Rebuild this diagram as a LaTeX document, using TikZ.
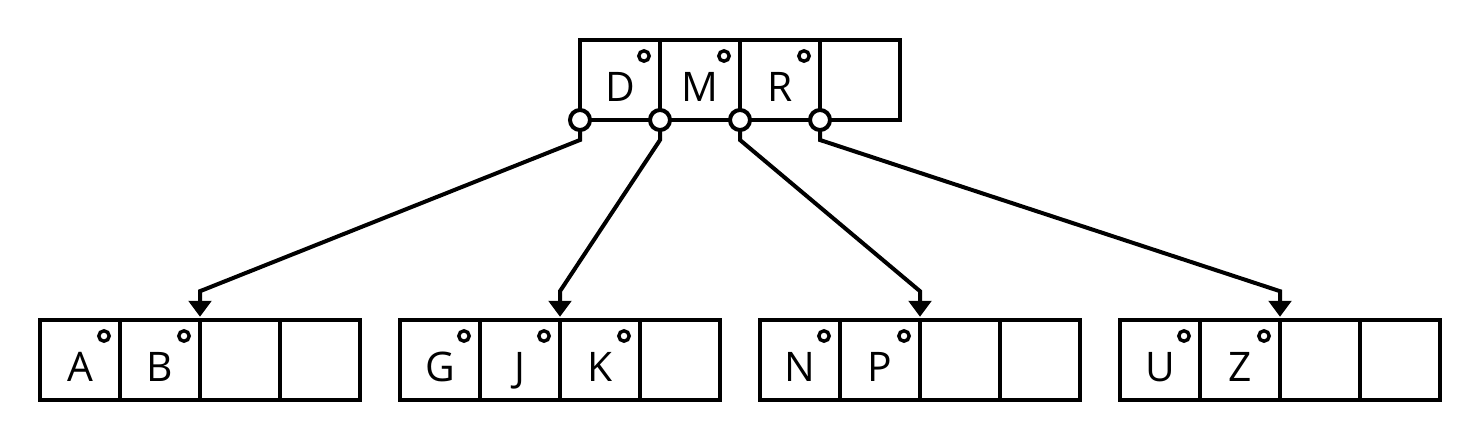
\documentclass[tikz,border=0pt]{standalone}
\usepackage{fontspec}
\setmainfont{Open Sans}
\usetikzlibrary{arrows.meta,positioning,calc}
\tikzset{
  cell/.style = {draw, line width=0.1cm, minimum width=2cm, minimum height=2cm,
                 inner sep=0pt, outer sep=0pt, anchor=north west},
  key/.style  = {font=\fontsize{29}{34}\selectfont, anchor=base, inner sep=0pt},
  dot/.style  = {circle, draw, line width=0.085cm, minimum size=0.26cm, inner sep=0pt},
  ptr/.style  = {circle, draw, fill=white, line width=0.1cm, minimum size=0.5cm,
                 inner sep=0pt, outer sep=0pt},
  ar/.style   = {-{Triangle[length=4mm,width=5.6mm]}, line width=0.1cm, shorten >=0.08cm},
}
\begin{document}
\begin{tikzpicture}
  \useasboundingbox (0,0) rectangle (37,11);
  % root node
  \foreach \i in {1,...,4}
    \node[cell] (t\i) at ({12.5+2*\i},10) {};
  \foreach \k [count=\i] in {D,M,R} {
    \node[key] (tk\i) at ($(t\i.south)+(0,0.47)$) {\k};
    \node[dot] (td\i) at ($(t\i.north east)+(-0.4,-0.4)$) {};
  }
  % child nodes
  \foreach \g/\x in {1/1,2/10,3/19,4/28}
    \foreach \j in {1,...,4}
      \node[cell] (b\g-\j) at ({\x+2*\j-2},3) {};
  \foreach \g/\j/\k in {1/1/A,1/2/B,2/1/G,2/2/J,2/3/K,3/1/N,3/2/P,4/1/U,4/2/Z} {
    \node[key] (bk\g-\j) at ($(b\g-\j.south)+(0,0.47)$) {\k};
    \node[dot] (bd\g-\j) at ($(b\g-\j.north east)+(-0.4,-0.4)$) {};
  }
  % pointers
  \node[ptr] (p0) at (t1.south west) {};
  \foreach \i in {1,2,3}
    \node[ptr] (p\i) at (t\i.south east) {};
  \foreach \i/\g in {0/1,1/2,2/3,3/4}
    \draw[ar] (p\i.south) -- ++(0,-0.25)
      -- ($(b\g-2.north east)+(0,0.72)$) -- (b\g-2.north east);
\end{tikzpicture}
\end{document}
